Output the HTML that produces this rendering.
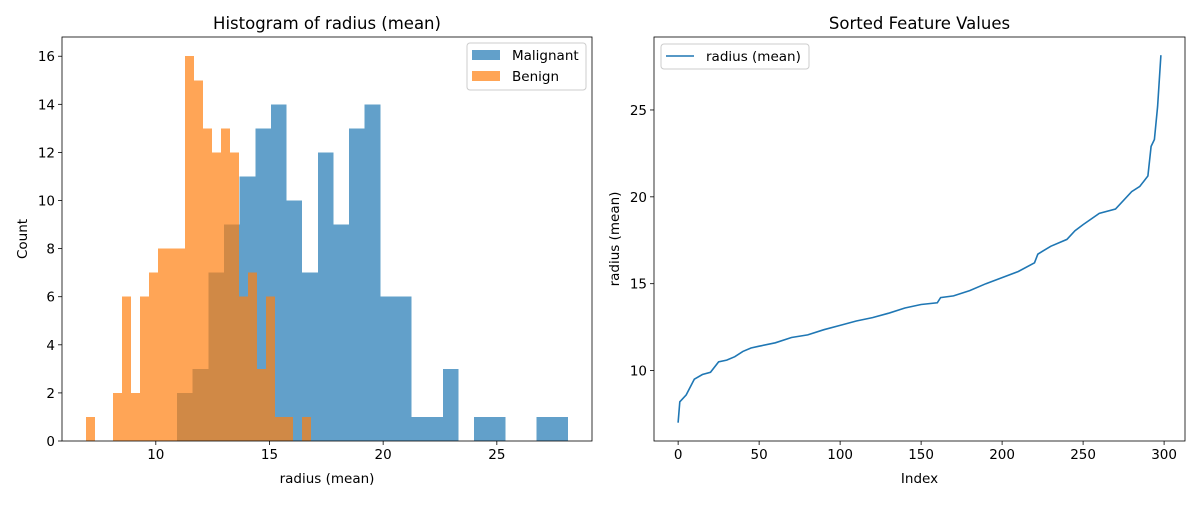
<!DOCTYPE html>
<html><head><meta charset="utf-8"><style>
body{margin:0;background:#fff;font-family:"Liberation Sans","DejaVu Sans",sans-serif;}
svg text{font-family:"DejaVu Sans","Liberation Sans",sans-serif;fill:#000;}
</style></head><body>
<svg id="chart" width="1200" height="500" xmlns="http://www.w3.org/2000/svg"></svg>
<script>
// Histogram data
const malStart = 10.937, malWidth = 0.6876;
const malignantCounts = [2,3,7,9,11,13,14,10,7,12,9,13,14,6,6,1,1,3,0,1,1,0,0,1,1];
const benStart = 6.934, benWidth = 0.3955;
const benignCounts = [1,0,0,2,6,2,6,7,8,8,8,16,15,13,12,13,12,6,7,3,6,1,1,0,1];
const histXTicks = [10,15,20,25];
const histYTicks = [0,2,4,6,8,10,12,14,16];
// Sorted line data
const sortedIdx = [0,1,5,10,15,20,25,30,35,40,45,50,60,70,80,90,100,110,120,130,140,150,160,162,170,180,190,200,210,220,222,225,230,240,245,250,260,270,280,285,290,292,294,296,298];
const sortedVals = [7.0,8.2,8.6,9.5,9.77,9.9,10.5,10.6,10.8,11.1,11.3,11.4,11.6,11.9,12.05,12.35,12.6,12.85,13.05,13.3,13.6,13.8,13.9,14.2,14.3,14.6,15.0,15.35,15.7,16.2,16.7,16.87,17.15,17.55,18.05,18.4,19.05,19.3,20.3,20.6,21.2,22.9,23.3,25.2,28.15];
const lineXTicks = [0,50,100,150,200,250,300];
const lineYTicks = [10,15,20,25];

const svg = document.getElementById('chart');
const NS = 'http://www.w3.org/2000/svg';
function mk(tag, attrs, parent){const e=document.createElementNS(NS,tag);for(const k in attrs)e.setAttribute(k,attrs[k]);(parent||svg).appendChild(e);return e;}
function txt(s, attrs){const e=mk('text',attrs);e.textContent=s;return e;}

// Left axes
const L={x0:62,x1:592,y0:37,y1:441,xmin:5.874,xmax:29.186,ymin:0,ymax:16.8};
const lx=v=>L.x0+(v-L.xmin)/(L.xmax-L.xmin)*(L.x1-L.x0);
const ly=v=>L.y1-(v-L.ymin)/(L.ymax-L.ymin)*(L.y1-L.y0);

malignantCounts.forEach((c,i)=>{
  if(!c) return;
  const a=malStart+i*malWidth, b=a+malWidth;
  const r=mk('rect',{x:lx(a),y:ly(c),width:lx(b)-lx(a),height:ly(0)-ly(c),fill:'#1f77b4','fill-opacity':0.7,'shape-rendering':'crispEdges'});
  
  
});
benignCounts.forEach((c,i)=>{
  if(!c) return;
  const a=benStart+i*benWidth, b=a+benWidth;
  const r=mk('rect',{x:lx(a),y:ly(c),width:lx(b)-lx(a),height:ly(0)-ly(c),fill:'#ff7f0e','fill-opacity':0.7,'shape-rendering':'crispEdges'});
  
  
});
mk('rect',{x:L.x0,y:L.y0,width:L.x1-L.x0,height:L.y1-L.y0,fill:'none',stroke:'#000','stroke-width':0.8,});
histXTicks.forEach(t=>{
  mk('line',{x1:lx(t),x2:lx(t),y1:L.y1,y2:L.y1+4,stroke:'#000','stroke-width':0.8});
  const e=txt(String(t),{x:lx(t),y:L.y1+18,'text-anchor':'middle','font-size':13.5});
  
  
});
histYTicks.forEach(t=>{
  mk('line',{x1:L.x0-4,x2:L.x0,y1:ly(t),y2:ly(t),stroke:'#000','stroke-width':0.8});
  const e=txt(String(t),{x:L.x0-7,y:ly(t)+5,'text-anchor':'end','font-size':13.5});
  
  
});
txt('Histogram of radius (mean)',{x:(L.x0+L.x1)/2,y:29,'text-anchor':'middle','font-size':16.5,});
txt('radius (mean)',{x:(L.x0+L.x1)/2,y:483,'text-anchor':'middle','font-size':13.5,});
txt('Count',{x:0,y:0,'text-anchor':'middle','font-size':13.5,transform:'translate(27,239) rotate(-90)',});
// Legend left
const lg=mk('g',{});
mk('rect',{x:467,y:43,width:119,height:47,rx:3,fill:'#fff','fill-opacity':0.8,stroke:'#ccc'},lg);
mk('rect',{x:472,y:50,width:28,height:10,fill:'#1f77b4','fill-opacity':0.7},lg);
mk('rect',{x:472,y:71,width:28,height:10,fill:'#ff7f0e','fill-opacity':0.7},lg);
const t1=mk('text',{x:512,y:60,'font-size':13.5,},lg);t1.textContent='Malignant';
const t2=mk('text',{x:512,y:81,'font-size':13.5,},lg);t2.textContent='Benign';

// Right axes
const R={x0:654,x1:1185,y0:37,y1:441,xmin:-14.9,xmax:312.9,ymin:5.945,ymax:29.2};
const rx=v=>R.x0+(v-R.xmin)/(R.xmax-R.xmin)*(R.x1-R.x0);
const ry=v=>R.y1-(v-R.ymin)/(R.ymax-R.ymin)*(R.y1-R.y0);
const pts=sortedIdx.map((d,i)=>rx(d).toFixed(1)+','+ry(sortedVals[i]).toFixed(1)).join(' ');
mk('polyline',{points:pts,fill:'none',stroke:'#1f77b4','stroke-width':1.6,});
mk('rect',{x:R.x0,y:R.y0,width:R.x1-R.x0,height:R.y1-R.y0,fill:'none',stroke:'#000','stroke-width':0.8,});
lineXTicks.forEach(t=>{
  mk('line',{x1:rx(t),x2:rx(t),y1:R.y1,y2:R.y1+4,stroke:'#000','stroke-width':0.8});
  const e=txt(String(t),{x:rx(t),y:R.y1+18,'text-anchor':'middle','font-size':13.5});
  
  
});
lineYTicks.forEach(t=>{
  mk('line',{x1:R.x0-4,x2:R.x0,y1:ry(t),y2:ry(t),stroke:'#000','stroke-width':0.8});
  const e=txt(String(t),{x:R.x0-7,y:ry(t)+5,'text-anchor':'end','font-size':13.5});
  
  
});
txt('Sorted Feature Values',{x:(R.x0+R.x1)/2,y:29,'text-anchor':'middle','font-size':16.5,});
txt('Index',{x:(R.x0+R.x1)/2,y:483,'text-anchor':'middle','font-size':13.5,});
txt('radius (mean)',{x:0,y:0,'text-anchor':'middle','font-size':13.5,transform:'translate(619,239) rotate(-90)',});
const rg=mk('g',{});
mk('rect',{x:661,y:44,width:148,height:25,rx:3,fill:'#fff','fill-opacity':0.8,stroke:'#ccc'},rg);
mk('line',{x1:666,x2:694,y1:56,y2:56,stroke:'#1f77b4','stroke-width':1.6},rg);
const t3=mk('text',{x:706,y:61,'font-size':13.5,},rg);t3.textContent='radius (mean)';
</script>
</body></html>
